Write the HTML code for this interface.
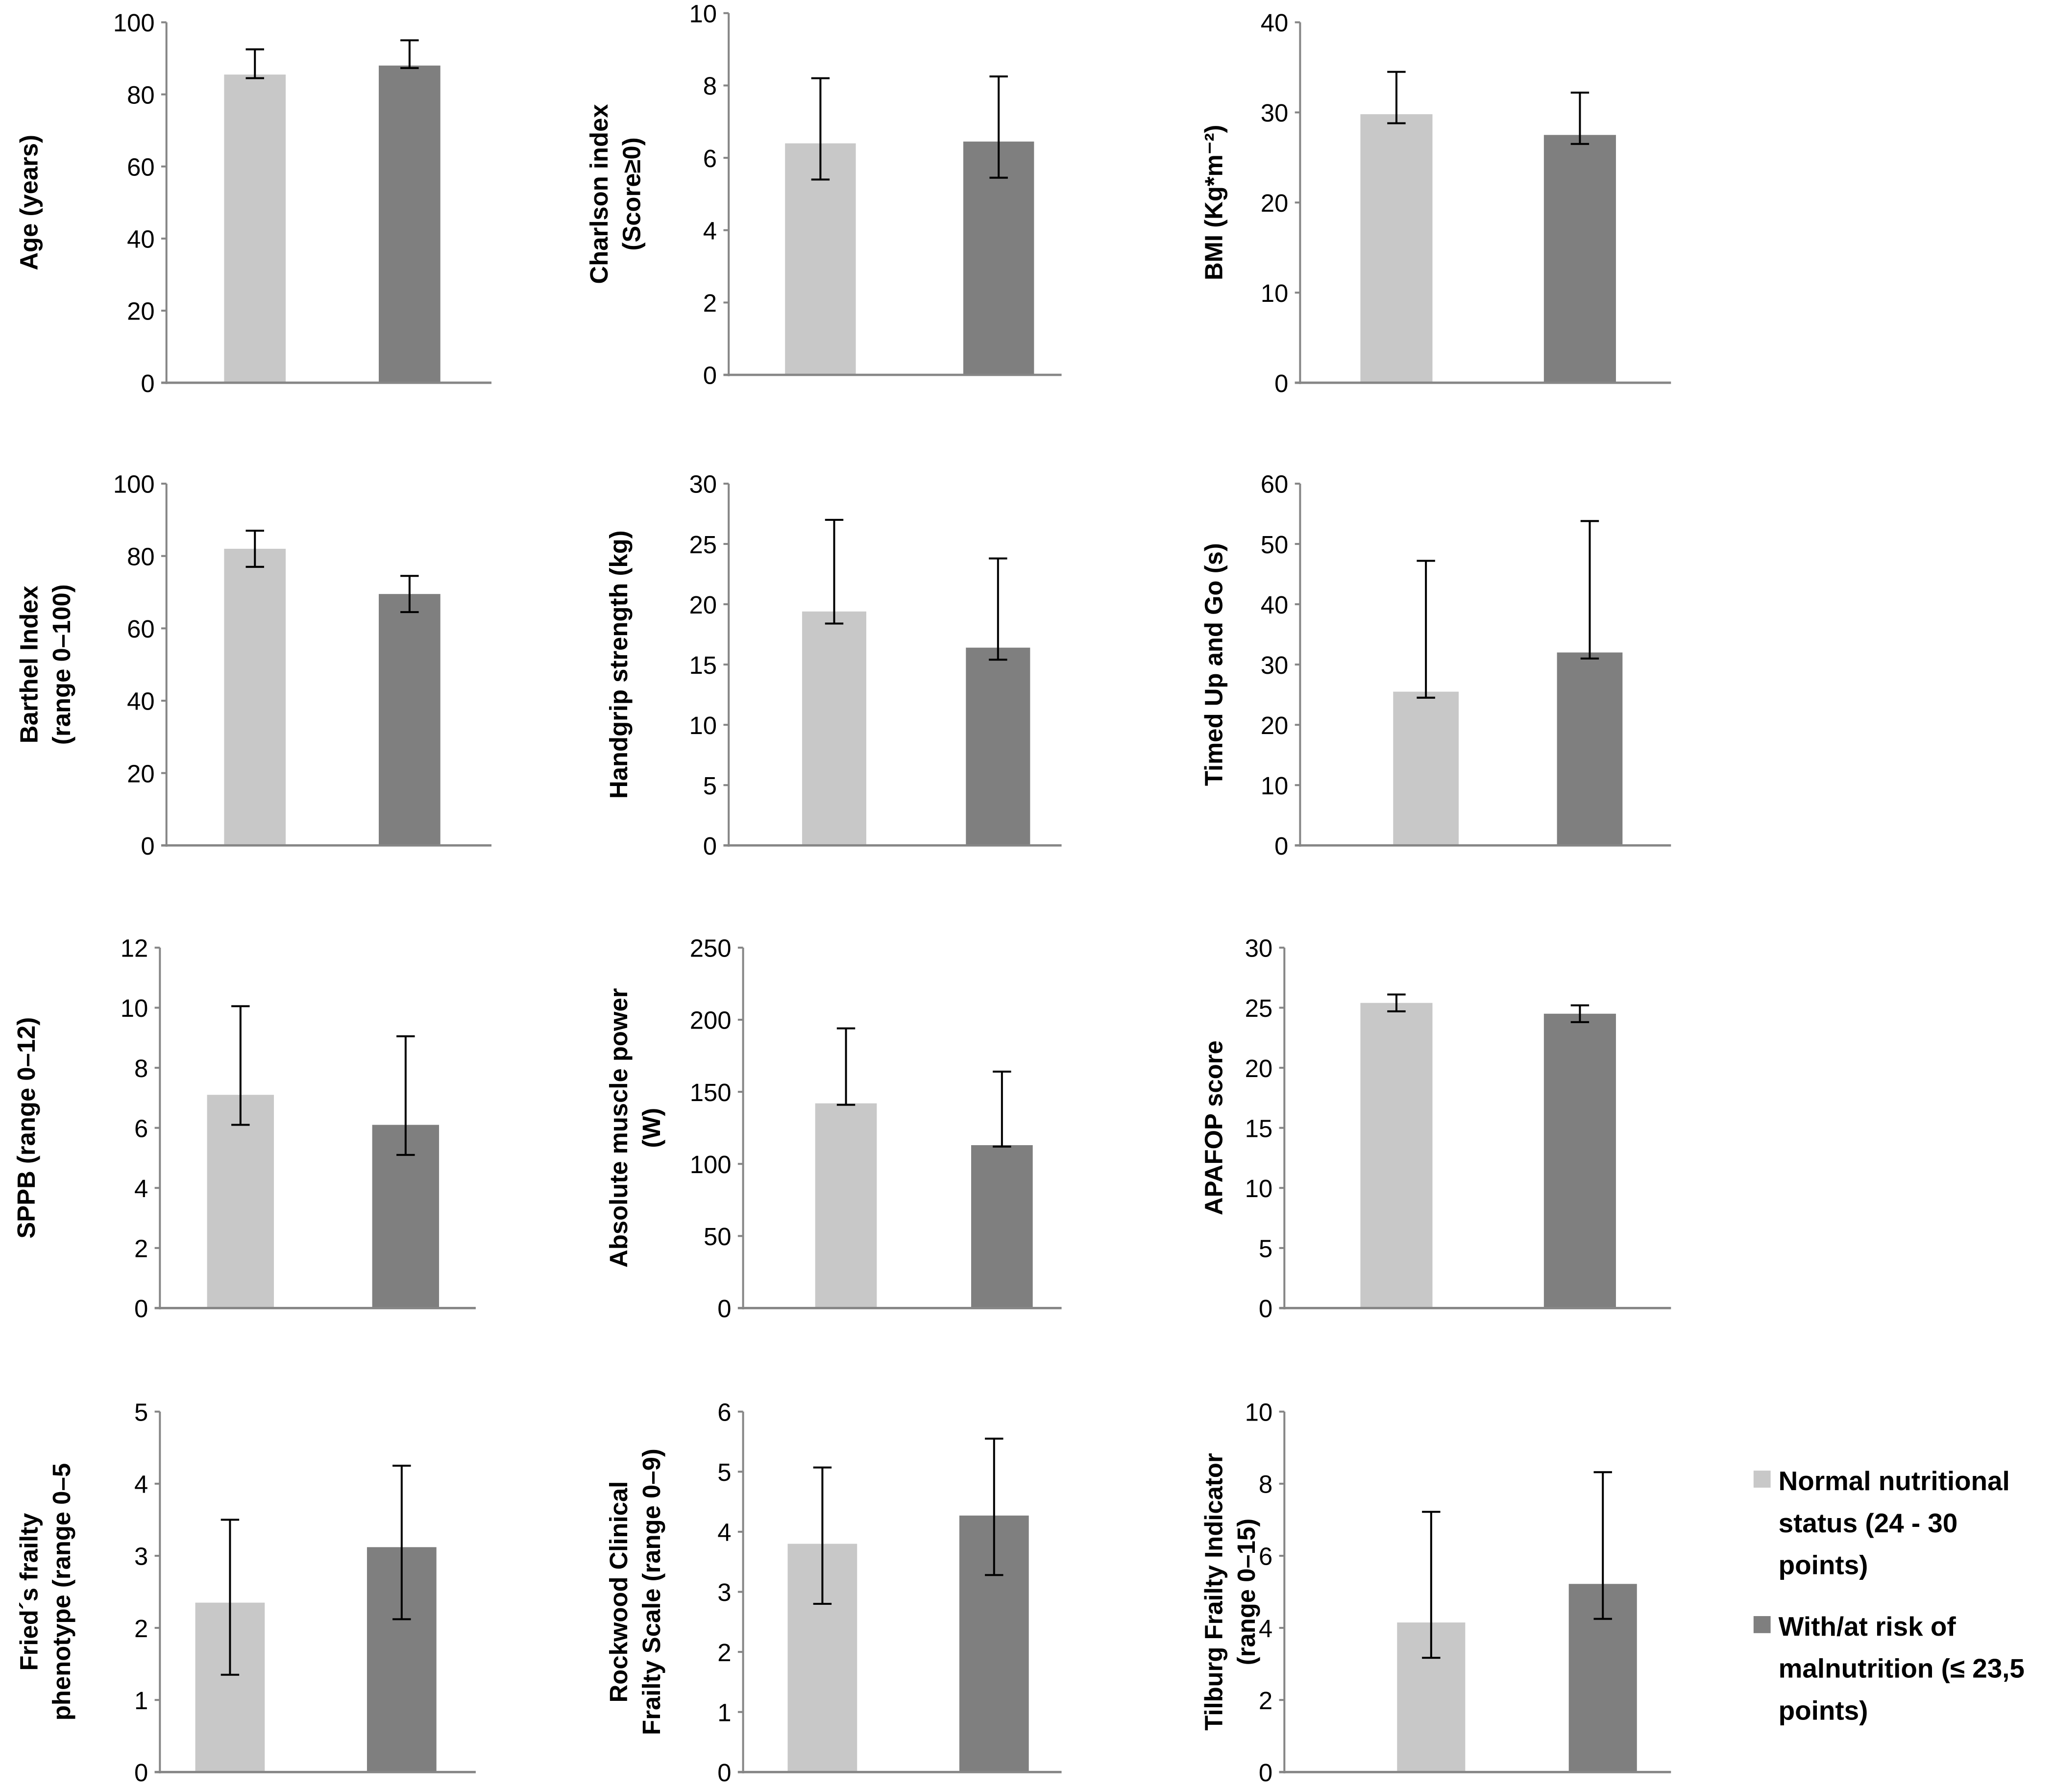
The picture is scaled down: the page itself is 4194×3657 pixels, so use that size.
<!DOCTYPE html>
<html><head><meta charset="utf-8"><style>html,body{margin:0;padding:0;background:#fff}svg{display:block}</style></head>
<body>
<svg id="chart" width="4194" height="3657" viewBox="0 0 1568 1367.2" xmlns="http://www.w3.org/2000/svg" font-family="'Liberation Sans', sans-serif"></svg>
<script>
const panelNames = ["age","charlson","bmi","barthel","handgrip","tug","sppb","power","apafop","fried","rockwood","tilburg"];
const yMaxes = [100,10,40,100,30,60,12,250,30,5,6,10];
const ySteps = [20,2,10,20,5,10,2,50,5,1,1,2];
const normalValues = [85.5,6.4,29.8,82,19.4,25.5,7.1,142,25.4,2.35,3.8,4.15];
const normalErrUp = [92.5,8.2,34.5,87,27,47.2,10.05,194,26.1,3.5,5.07,7.22];
const normalErrLow = [84.5,5.4,28.8,77,18.4,24.5,6.1,141,24.7,1.35,2.8,3.17];
const riskValues = [88,6.45,27.5,69.5,16.4,32,6.1,113,24.5,3.12,4.27,5.22];
const riskErrUp = [95,8.25,32.2,74.5,23.8,53.8,9.05,164,25.2,4.25,5.55,8.32];
const riskErrLow = [87.3,5.45,26.5,64.5,15.4,31,5.1,112,23.8,2.12,3.28,4.25];
const titles = [["Age (years)"],["Charlson index","(Score≥0)"],["BMI (Kg*m⁻²)"],["Barthel Index","(range  0–100)"],["Handgrip strength (kg)"],["Timed Up and Go (s)"],["SPPB (range 0–12)"],["Absolute muscle power","(W)"],["APAFOP score"],["Fried´s  frailty","phenotype (range 0–5"],["Rockwood Clinical","Frailty Scale (range 0–9)"],["Tilburg Frailty Indicator","(range 0–15)"]];

// layout (not data)
const L = [
 {ax:127,end:375,top:17,zero:292,b1:[171,218],b2:[289,336],tx:22},
 {ax:556,end:810,top:10,zero:286,b1:[599,653],b2:[735,789],tx:457},
 {ax:992,end:1275,top:17,zero:292,b1:[1038,1093],b2:[1178,1233],tx:926},
 {ax:127,end:375,top:369,zero:645,b1:[171,218],b2:[289,336],tx:22},
 {ax:556,end:810,top:369,zero:645,b1:[612,661],b2:[737,786],tx:472},
 {ax:992,end:1275,top:369,zero:645,b1:[1063,1113],b2:[1188,1238],tx:926},
 {ax:122,end:363,top:723,zero:998,b1:[158,209],b2:[284,335],tx:20},
 {ax:567,end:810,top:723,zero:998,b1:[622,669],b2:[741,788],tx:472},
 {ax:980,end:1275,top:723,zero:998,b1:[1038,1093],b2:[1178,1233],tx:926},
 {ax:122,end:363,top:1077,zero:1352,b1:[149,202],b2:[280,333],tx:22},
 {ax:567,end:810,top:1077,zero:1352,b1:[601,654],b2:[732,785],tx:472},
 {ax:980,end:1275,top:1077,zero:1352,b1:[1066,1118],b2:[1197,1249],tx:926}
];
const NS="http://www.w3.org/2000/svg";
const svg=document.getElementById('chart');
function mk(tag,attrs,parent){const e=document.createElementNS(NS,tag);for(const k in attrs)e.setAttribute(k,attrs[k]);(parent||svg).appendChild(e);return e;}

panelNames.forEach((name,i)=>{
  const p=L[i];
  const g=mk('g',{});
  
  
  const y=v=>p.zero-(v/yMaxes[i])*(p.zero-p.top);
  for(let v=0;v<=yMaxes[i]+1e-9;v+=ySteps[i]){
    const yy=y(v);
    const t=mk('line',{x1:p.ax-4,x2:p.ax,y1:yy,y2:yy,stroke:'#868686','stroke-width':1.5},g);
    
    
    const lab=mk('text',{x:p.ax-9,y:yy+7,'text-anchor':'end','font-size':19,fill:'#000'},g);
    
    
    lab.textContent=String(Math.round(v*100)/100);
  }
  [[normalValues,normalErrUp,normalErrLow,p.b1,'#c8c8c8','normal'],[riskValues,riskErrUp,riskErrLow,p.b2,'#7f7f7f','risk']].forEach(([vals,up,low,bx,col,key])=>{
    const r=mk('rect',{x:bx[0],y:y(vals[i]),width:bx[1]-bx[0],height:p.zero-y(vals[i]),fill:col},g);
    
    
    const cx=(bx[0]+bx[1])/2;
    const eg=mk('g',{stroke:'#000','stroke-width':1.5},g);
    
    
    mk('line',{x1:cx,x2:cx,y1:y(up[i]),y2:y(low[i])},eg);
    mk('line',{x1:cx-7,x2:cx+7,y1:y(up[i]),y2:y(up[i])},eg);
    mk('line',{x1:cx-7,x2:cx+7,y1:y(low[i]),y2:y(low[i])},eg);
  });
  const ya=mk('line',{x1:p.ax,x2:p.ax,y1:p.top,y2:p.zero+1,stroke:'#868686','stroke-width':1.5},g);
  
  
  const xa=mk('line',{x1:p.ax-4,x2:p.end,y1:p.zero,y2:p.zero,stroke:'#868686','stroke-width':1.8},g);
  
  
  const cy=(p.top+p.zero)/2;
  const lines=titles[i];
  lines.forEach((ln,k)=>{
    const tx=p.tx+(lines.length===2?k*25:0);
    const t=mk('text',{x:tx,y:cy,transform:`rotate(-90 ${tx} ${cy})`,'text-anchor':'middle','dominant-baseline':'central','font-size':19,'font-weight':'bold',fill:'#000'},g);
    
    
    t.textContent=ln;
  });
});
const lg=mk('g',{});


const legendItems=[['#c8c8c8',1122,["Normal nutritional","status (24 - 30","points)"],'legend-entry-normal'],['#7f7f7f',1233,["With/at risk of","malnutrition (≤ 23,5","points)"],'legend-entry-risk']];
legendItems.forEach(([col,yy,ls,nm])=>{
  const e=mk('g',{},lg);
  
  
  mk('rect',{x:1338,y:yy,width:13,height:13,fill:col},e);
  ls.forEach((s,k)=>{
    const t=mk('text',{x:1357,y:yy+15+k*32,'font-size':20.5,'font-weight':'bold',fill:'#000'},e);
    t.textContent=s;
  });
});
</script>
</body></html>
